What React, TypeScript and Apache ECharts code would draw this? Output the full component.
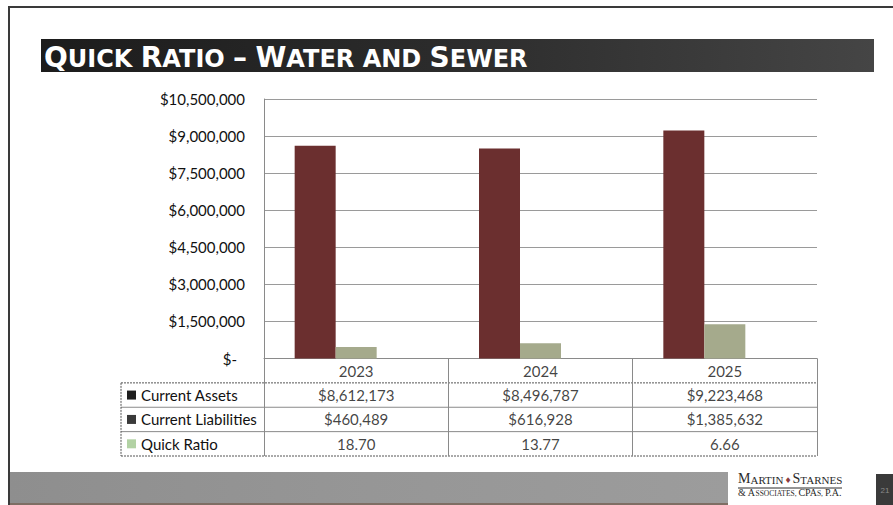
import React, { useEffect, useRef } from "react";
import * as echarts from "echarts";

const years = ["2023", "2024", "2025"];
const seriesNames = ["Current Assets", "Current Liabilities", "Quick Ratio"];
const currentAssets = [8612173, 8496787, 9223468];
const currentLiabilities = [460489, 616928, 1385632];
const quickRatio = [18.7, 13.77, 6.66];
const yMin = 0;
const yMax = 10500000;
const yInterval = 1500000;

const barColors = ["#6b2f2f", "#a5aa8c", "#b2cfa4"];
const keyColors = ["#1e1e1e", "#3a3a3a", "#b2d2a4"];

const money = (n: number) => "$" + n.toLocaleString("en-US");

export default function App() {
  const ref = useRef<HTMLDivElement>(null);
  useEffect(() => {
    if (!ref.current) return;
    const chart = echarts.init(ref.current, null, { renderer: "svg" });

    // layout constants
    const gL = 264, gR = 817, gTop = 99, gBottom = 358.5;
    const tTop = 358.5, tBottom = 456, tLeft = 121;
    const rowH = (tBottom - tTop) / 4;
    const rowY = (k: number) => tTop + k * rowH;
    const font = "Lato";
    const ink = "#111111";

    const rowTexts = [
      years,
      currentAssets.map(money),
      currentLiabilities.map(money),
      quickRatio.map((v) => v.toFixed(2)),
    ];
    const cellData: any[] = [];
    years.forEach((_, i) => {
      rowTexts.forEach((row, r) => {
        cellData.push([i, r, row[i]]);
      });
    });

    const hLine = (y: number, x1: number, x2: number, dashed: boolean, color = "#8a8a8a") => ({
      type: "line",
      shape: { x1, y1: y, x2, y2: y },
      style: { stroke: color, lineWidth: 1, lineDash: dashed ? [2, 1] : null },
      silent: true,
    });
    const vLine = (x: number, y1: number, y2: number, dashed: boolean, color = "#8a8a8a") => ({
      type: "line",
      shape: { x1: x, y1, x2: x, y2 },
      style: { stroke: color, lineWidth: 1, lineDash: dashed ? [2, 1] : null },
      silent: true,
    });

    const option: any = {
      animation: false,
      backgroundColor: "#ffffff",
      grid: [
        { left: gL, right: 893 - gR, top: gTop, bottom: 505 - gBottom },
        { left: gL, right: 893 - gR, top: tTop, bottom: 505 - tBottom },
      ],
      xAxis: [
        {
          type: "category",
          gridIndex: 0,
          data: years,
          axisLabel: { show: false },
          axisTick: { show: false },
          axisLine: { show: true, lineStyle: { color: "#8a8a8a", width: 1 } },
        },
        {
          type: "category",
          gridIndex: 1,
          data: years,
          axisLabel: { show: false },
          axisTick: { show: false },
          axisLine: { show: false },
          splitLine: { show: true, lineStyle: { color: "#8a8a8a", width: 1 } },
        },
      ],
      yAxis: [
        {
          type: "value",
          gridIndex: 0,
          min: yMin,
          max: yMax,
          interval: yInterval,
          axisLine: { show: true, lineStyle: { color: "#8a8a8a", width: 1 } },
          axisTick: { show: false },
          splitLine: { show: true, lineStyle: { color: "#9a9a9a", width: 1 } },
          axisLabel: {
            margin: 19,
            fontFamily: font,
            fontSize: 15,
            color: ink,
            formatter: (v: number) => (v === 0 ? "{z|$-}" : money(v)),
            rich: { z: { fontFamily: font, fontSize: 15, color: ink, padding: [0, 8, 0, 0] } },
          },
        },
        {
          type: "category",
          gridIndex: 1,
          inverse: true,
          data: ["", ...seriesNames],
          axisLine: { show: false },
          axisTick: { show: false },
          splitLine: { show: false },
          axisLabel: {
            align: "left",
            margin: gL - 127,
            fontFamily: font,
            fontSize: 15,
            color: ink,
            formatter: (v: string, i: number) => (i === 0 ? "" : `{k${i}|}{t|${v}}`),
            rich: {
              k1: { backgroundColor: keyColors[0], width: 9, height: 9 },
              k2: { backgroundColor: keyColors[1], width: 9, height: 9 },
              k3: { backgroundColor: keyColors[2], width: 9, height: 9 },
              t: { fontFamily: font, fontSize: 15, color: ink, padding: [0, 0, 0, 5] },
            },
          },
        },
      ],
      series: [
        ...seriesNames.map((name, s) => ({
          name,
          type: "bar",
          xAxisIndex: 0,
          yAxisIndex: 0,
          barWidth: 41,
          barGap: "0%",
          itemStyle: { color: barColors[s] },
          data: [currentAssets, currentLiabilities, quickRatio][s],
          silent: true,
        })),
        {
          type: "scatter",
          xAxisIndex: 1,
          yAxisIndex: 1,
          symbolSize: 1,
          itemStyle: { color: "transparent" },
          silent: true,
          data: cellData,
          label: {
            show: true,
            position: "inside",
            fontFamily: font,
            fontSize: 15,
            color: ink,
            formatter: (p: any) => p.value[2],
          },
        },
      ],
      graphic: [
        // slide frame
        { type: "rect", shape: { x: 8, y: 6, width: 885, height: 2 }, style: { fill: "#3a3a3a" }, silent: true },
        // bottom band
        {
          type: "rect",
          shape: { x: 9, y: 472, width: 719, height: 31 },
          style: {
            fill: new echarts.graphic.LinearGradient(0, 0, 1, 0, [
              { offset: 0, color: "#8e8e8e" },
              { offset: 0.5, color: "#969696" },
              { offset: 1, color: "#9c9c9c" },
            ]),
          },
          silent: true,
        },
        { type: "rect", shape: { x: 9, y: 503, width: 719, height: 2 }, style: { fill: "#7e6e64" }, silent: true },
        { type: "rect", shape: { x: 8, y: 6, width: 2, height: 499 }, style: { fill: "#3a3a3a" }, silent: true },
        // title bar
        {
          type: "rect",
          shape: { x: 41, y: 39, width: 833, height: 33 },
          style: {
            fill: new echarts.graphic.LinearGradient(0, 0, 1, 0, [
              { offset: 0, color: "#1c1c1c" },
              { offset: 0.5, color: "#2c2c2c" },
              { offset: 1, color: "#454545" },
            ]),
          },
          silent: true,
        },
        {
          type: "text",
          x: 44,
          y: 57,
          silent: true,
          style: {
            text: "{b|Q}{s|UICK }{b|R}{s|ATIO }{d|–}{s| }{b|W}{s|ATER AND }{b|S}{s|EWER}",
            verticalAlign: "middle",
            align: "left",
            rich: {
              b: { fontFamily: "DejaVu Sans", fontWeight: "bold", fontSize: 28, fill: "#ffffff", verticalAlign: "bottom" },
              s: { fontFamily: "DejaVu Sans", fontWeight: "bold", fontSize: 24, fill: "#ffffff", verticalAlign: "bottom" },
              d: { fontFamily: "DejaVu Sans", fontWeight: "bold", fontSize: 28, fill: "#ffffff", verticalAlign: "bottom" },
            },
          },
        },
        // table borders
        hLine(rowY(1), tLeft, gR, true, "#555"),
        hLine(rowY(2), tLeft, gR, false),
        hLine(rowY(3), tLeft, gR, false),
        hLine(rowY(4), tLeft, gR, true, "#555"),
        vLine(tLeft, rowY(1), rowY(4), true, "#555"),
        // logo
        {
          type: "text",
          x: 738,
          y: 485,
          silent: true,
          style: {
            text: "{B|M}{s|ARTIN}{d|♦}{B|S}{s|TARNES}",
            verticalAlign: "bottom",
            align: "left",
            rich: {
              B: { fontFamily: "Liberation Serif", fontSize: 14, fill: "#2a2a2a", verticalAlign: "bottom" },
              s: { fontFamily: "Liberation Serif", fontSize: 11, fill: "#2a2a2a", verticalAlign: "bottom" },
              d: { fontFamily: "DejaVu Sans", fontSize: 8, fill: "#8c3b3b", verticalAlign: "bottom", padding: [0, 1, 1, 1] },
            },
          },
        },
        hLine(488, 738, 842, false, "#2a2a2a"),
        {
          type: "text",
          x: 738,
          y: 497,
          silent: true,
          style: {
            text: "{B|& A}{s|SSOCIATES, }{B|CPA}{s|S, }{B|P.A.}",
            verticalAlign: "bottom",
            align: "left",
            rich: {
              B: { fontFamily: "Liberation Serif", fontSize: 10, fill: "#2a2a2a", verticalAlign: "bottom" },
              s: { fontFamily: "Liberation Serif", fontSize: 7.5, fill: "#2a2a2a", verticalAlign: "bottom" },
            },
          },
        },
        // page number box
        { type: "rect", shape: { x: 876, y: 474, width: 17, height: 31 }, style: { fill: "#3a3a3a" }, silent: true },
        {
          type: "text",
          x: 885,
          y: 490,
          silent: true,
          style: { text: "21", fontFamily: "Liberation Sans", fontSize: 8, fill: "#8a8a8a", align: "center", verticalAlign: "middle" },
        },
      ],
    };
    chart.setOption(option);
    return () => chart.dispose();
  }, []);
  return (
    <div
      ref={ref}
      style={{ position: "fixed", left: 0, top: 0, width: 893, height: 505, background: "#fff" }}
    />
  );
}
